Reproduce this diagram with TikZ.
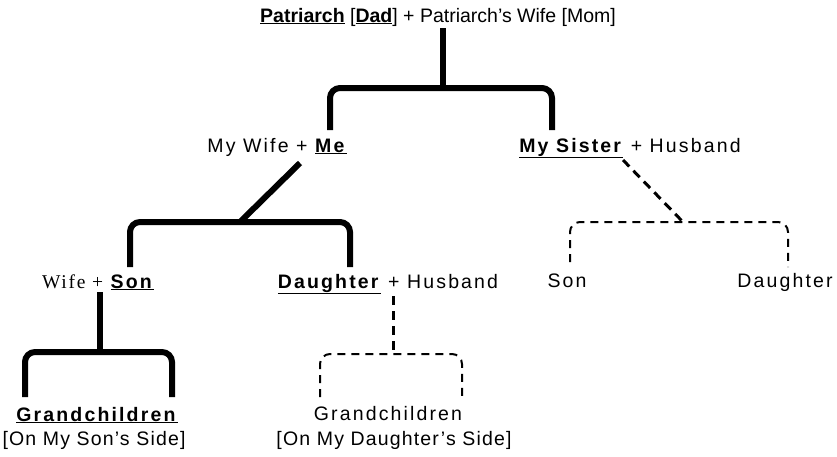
\documentclass[tikz,border=0pt]{standalone}
\usepackage{fontspec}
\setmainfont[LetterSpace=11]{Liberation Sans}
\newfontfamily\topfont{Liberation Sans}
\newfontfamily\notefont[LetterSpace=6]{Liberation Sans}
\newfontfamily\wifefont[LetterSpace=9]{Liberation Serif}
\usetikzlibrary{positioning}

\newcommand{\ulb}[1]{\underline{\textbf{#1}}}

\begin{document}
\begin{tikzpicture}[x=1pt,y=-1pt,
    lbl/.style={anchor=base,inner sep=2pt,font=\fontsize{19.5}{22}\selectfont},
    thickline/.style={line width=6pt,rounded corners=10pt},
    dashstem/.style={line width=3pt,dash pattern=on 9pt off 6pt},
    dashline/.style={line width=2pt,dash pattern=on 8pt off 6pt,rounded corners=10pt}]
    \useasboundingbox (0,0) rectangle (837,456);
    % people
    \node[lbl] (patriarch) at (438,22) {\topfont\ulb{Patriarch} [\ulb{Dad}] + Patriarch’s Wife [Mom]};
    \node[lbl] (me) at (277,152) {My Wife + \ulb{Me}};
    \node[lbl] (sister) at (630,152) {\ulb{My Sister} + Husband};
    \node[lbl] (son) at (98,288) {{\wifefont Wife +} \ulb{Son}};
    \node[lbl] (daughter) at (388,288) {\ulb{Daughter} + Husband};
    \node[lbl] (gcson) at (97,421) {\ulb{Grandchildren}};
    \node[lbl] (gcsonnote) at (94,445) {\notefont[On My Son’s Side]};
    \node[lbl] (gcdau) at (388,420) {Grandchildren};
    \node[lbl] (gcdaunote) at (394,445) {\notefont[On My Daughter’s Side]};
    \node[lbl] (sisson) at (567,287) {Son};
    \node[lbl] (sisdau) at (785,287) {Daughter};
    % joints
    \coordinate (j1) at (443,88);
    \coordinate (j2) at (240,222);
    \coordinate (j3) at (100,352);
    \coordinate (j4) at (393,354);
    \coordinate (j5) at (683,222);
    \coordinate (mefoot) at (300,163);
    \coordinate (sisfoot) at (623,160);
    % solid lines
    \draw[thickline] (patriarch.south -| j1) -- (j1);
    \draw[thickline] (330,130) |- (j1) -| (552,130);
    \draw[thickline] (mefoot) -- (j2);
    \draw[thickline] (130,267) |- (j2) -| (350,267);
    \draw[thickline] (son.south -| j3) -- (j3);
    \draw[thickline] (25,397) |- (j3) -| (172,397);
    % dashed lines
    \draw[dashstem] (daughter.south -| j4) -- (j4);
    \draw[dashline] (320,397) |- (j4) -| (462,397);
    \draw[dashstem] (sisfoot) -- (j5);
    \draw[dashline] (570,262) |- (j5) -| (788,267);
  \end{tikzpicture}
\end{document}
